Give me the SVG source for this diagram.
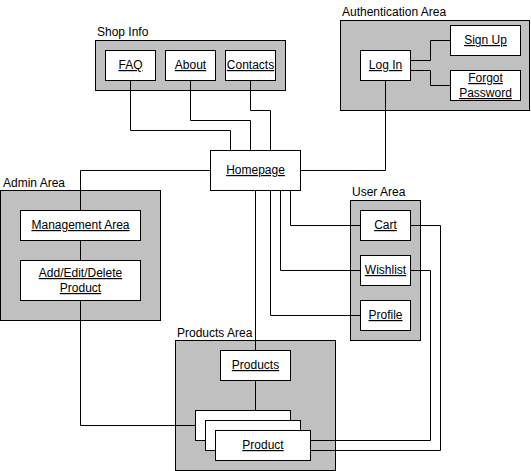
<svg xmlns="http://www.w3.org/2000/svg" width="531" height="471" viewBox="0 0 531 471">
<style>
.area{fill:#C0C0C0;stroke:#000;stroke-width:1}
.box{fill:#fff;stroke:#000;stroke-width:1}
.lbl{font-family:"Liberation Sans",Arial,sans-serif;font-size:12px;fill:#000}
.t{font-family:"Liberation Sans",Arial,sans-serif;font-size:12px;fill:#000;text-anchor:middle;text-decoration:underline}
.c{fill:none;stroke:#000;stroke-width:1}
</style>
<rect width="531" height="471" fill="#fff"/>
<g id="containers">
<g id="shop-info"><rect class="area" x="95.5" y="40.5" width="190" height="50"/><text class="lbl" x="97" y="36">Shop Info</text></g>
<g id="auth-area"><rect class="area" x="340.5" y="20.5" width="189" height="90"/><text class="lbl" x="342" y="16">Authentication Area</text></g>
<g id="admin-area"><rect class="area" x="0.5" y="190.5" width="160" height="130"/><text class="lbl" x="3" y="187">Admin Area</text></g>
<g id="user-area"><rect class="area" x="350.5" y="200.5" width="70" height="140"/><text class="lbl" x="352" y="196">User Area</text></g>
<g id="products-area"><rect class="area" x="175.5" y="340.5" width="160" height="130"/><text class="lbl" x="177" y="337">Products Area</text></g>
</g>
<g id="connectors">
<polyline class="c" points="130.5,80 130.5,130.5 230.5,130.5 230.5,150"/>
<polyline class="c" points="190.5,80 190.5,120.5 250.5,120.5 250.5,150"/>
<polyline class="c" points="250.5,80 250.5,110.5 270.5,110.5 270.5,150"/>
<polyline class="c" points="300,170.5 385.5,170.5 385.5,80"/>
<polyline class="c" points="410,60.5 430.5,60.5 430.5,40.5 450,40.5"/>
<polyline class="c" points="410,70.5 430.5,70.5 430.5,85.5 450,85.5"/>
<polyline class="c" points="210,170.5 80.5,170.5 80.5,210"/>
<line class="c" x1="80.5" y1="240" x2="80.5" y2="260"/>
<polyline class="c" points="80.5,300 80.5,425.5 195,425.5"/>
<polyline class="c" points="290.5,190 290.5,225.5 360,225.5"/>
<polyline class="c" points="280.5,190 280.5,270.5 360,270.5"/>
<polyline class="c" points="270.5,190 270.5,315.5 360,315.5"/>
<line class="c" x1="255.5" y1="190" x2="255.5" y2="350"/>
<line class="c" x1="255.5" y1="380" x2="255.5" y2="410"/>
<polyline class="c" points="410,225.5 440.5,225.5 440.5,450.5 310,450.5"/>
<polyline class="c" points="410,270.5 430.5,270.5 430.5,440.5 310,440.5"/>
</g>
<g id="faq"><rect class="box" x="105.5" y="50.5" width="50" height="30"/><text class="t" x="130.5" y="69">FAQ</text></g>
<g id="about"><rect class="box" x="165.5" y="50.5" width="50" height="30"/><text class="t" x="190.5" y="69">About</text></g>
<g id="contacts"><rect class="box" x="225.5" y="50.5" width="50" height="30"/><text class="t" x="250.5" y="69">Contacts</text></g>
<g id="login"><rect class="box" x="360.5" y="50.5" width="50" height="30"/><text class="t" x="385.5" y="69">Log In</text></g>
<g id="signup"><rect class="box" x="450.5" y="25.5" width="70" height="30"/><text class="t" x="485.5" y="44">Sign Up</text></g>
<g id="forgot"><rect class="box" x="450.5" y="70.5" width="70" height="30"/><text class="t" x="485.5" y="82">Forgot</text><text class="t" x="485.5" y="97">Password</text></g>
<g id="homepage"><rect class="box" x="210.5" y="150.5" width="90" height="40"/><text class="t" x="255.5" y="174">Homepage</text></g>
<g id="management"><rect class="box" x="20.5" y="210.5" width="120" height="30"/><text class="t" x="80.5" y="229">Management Area</text></g>
<g id="add-edit-delete"><rect class="box" x="20.5" y="260.5" width="120" height="40"/><text class="t" x="80.5" y="277">Add/Edit/Delete</text><text class="t" x="80.5" y="292">Product</text></g>
<g id="cart"><rect class="box" x="360.5" y="210.5" width="50" height="30"/><text class="t" x="385.5" y="229">Cart</text></g>
<g id="wishlist"><rect class="box" x="360.5" y="255.5" width="50" height="30"/><text class="t" x="385.5" y="274">Wishlist</text></g>
<g id="profile"><rect class="box" x="360.5" y="300.5" width="50" height="30"/><text class="t" x="385.5" y="319">Profile</text></g>
<g id="products"><rect class="box" x="220.5" y="350.5" width="70" height="30"/><text class="t" x="255.5" y="369">Products</text></g>
<g id="product">
<rect class="box" x="195.5" y="410.5" width="95" height="30"/>
<rect class="box" x="205.5" y="420.5" width="95" height="30"/>
<rect class="box" x="215.5" y="430.5" width="95" height="30"/>
<text class="t" x="263" y="449">Product</text>
</g>
</svg>
